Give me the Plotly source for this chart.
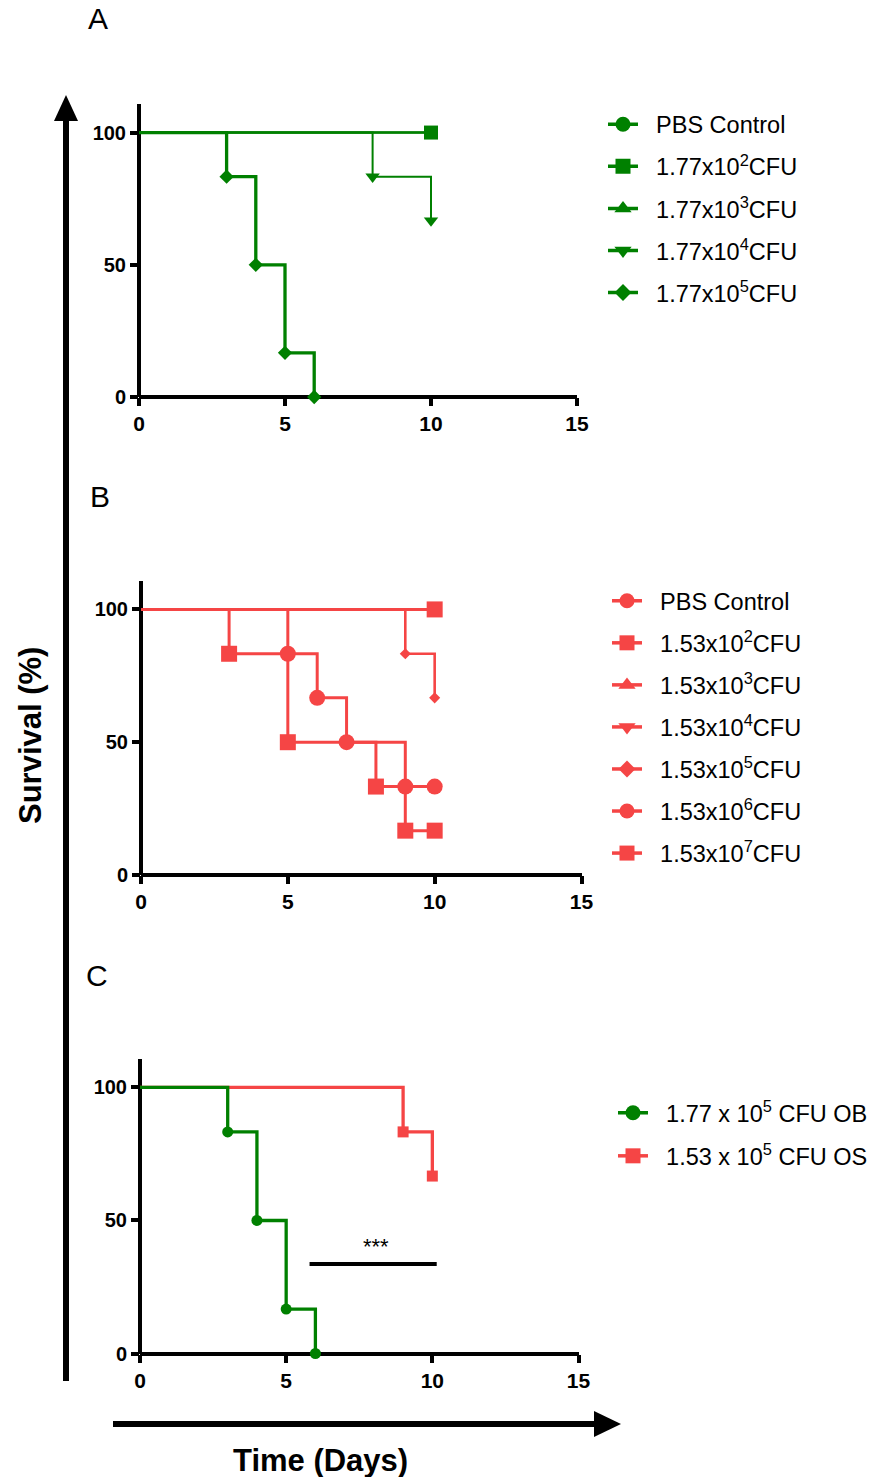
import plotly.graph_objects as go

W, H = 876, 1477
FONT = "Liberation Sans, Arial, sans-serif"
GREEN = "#008000"
RED = "#F54545"
PAD = "\u00a0\u00a0"

# ---------------- data ----------------
# Panel A (green, 1.77 x 10^n CFU)
a_names = ["PBS Control", "1.77x10<sup>2</sup>CFU", "1.77x10<sup>3</sup>CFU",
           "1.77x10<sup>4</sup>CFU", "1.77x10<sup>5</sup>CFU"]
a_days = [[0, 10], [0, 10], [0, 10], [0, 8, 10], [0, 3, 4, 5, 6]]
a_surv = [[100, 100], [100, 100], [100, 100], [100, 83.3, 66.7],
          [100, 83.3, 50, 16.7, 0]]

# Panel B (red, 1.53 x 10^n CFU)
b_names = ["PBS Control", "1.53x10<sup>2</sup>CFU", "1.53x10<sup>3</sup>CFU",
           "1.53x10<sup>4</sup>CFU", "1.53x10<sup>5</sup>CFU",
           "1.53x10<sup>6</sup>CFU", "1.53x10<sup>7</sup>CFU"]
b_days = [[0, 10], [0, 10], [0, 10], [0, 10], [0, 9, 10],
          [0, 5, 6, 7, 9, 10], [0, 3, 5, 8, 9, 10]]
b_surv = [[100, 100], [100, 100], [100, 100], [100, 100], [100, 83.3, 66.7],
          [100, 83.3, 66.7, 50, 33.3, 33.3], [100, 83.3, 50, 33.3, 16.7, 16.7]]

# Panel C (comparison)
c_names = ["1.77 x 10<sup>5</sup> CFU OB", "1.53 x 10<sup>5</sup> CFU OS"]
c_days = [[0, 3, 4, 5, 6], [0, 9, 10]]
c_surv = [[100, 83.3, 50, 16.7, 0], [100, 83.3, 66.7]]
sig_days = [5.8, 10.15]
sig_level = 33.6
sig_label = "***"

x_ticks = [0, 5, 10, 15]
y_ticks = [0, 50, 100]

# ---------------- styles ----------------
a_style = dict(
    symbols=["circle", "square", "triangle-up", "triangle-down", "diamond"],
    sizes=[12, 14, 12, 12.5, 11], widths=[2, 2, 2, 2, 3.3],
    draw_order=[0, 2, 1, 3, 4])
b_style = dict(
    symbols=["circle", "square", "triangle-up", "triangle-down", "diamond", "circle", "square"],
    sizes=[14, 16, 12, 12, 8.5, 16, 16], widths=[3, 3, 3, 3, 2.6, 3, 3],
    draw_order=[0, 2, 3, 1, 4, 6, 5])
c_style = dict(symbols=["circle", "square"], sizes=[11, 11], widths=[3.3, 3.3],
               draw_order=[1, 0], colors=[GREEN, RED])
legend_marker = {"circle": 15, "square": 15, "triangle-up": 15, "triangle-down": 15, "diamond": 13}

# pixel geometry of the three panels: (x0, x1, ytop, ybottom, yrange_top)
panels = [(139, 577, 104, 397, 110.8), (141, 581.5, 581, 875, 110.7),
          (140, 578.5, 1059, 1353.5, 110.7)]


def px(x):
    return x / W


def py(y):
    return 1 - y / H


fig = go.Figure()


def add_panel(idx, names, days, surv, symbols, sizes, widths, order, colors, legend_name):
    xa = "x" if idx == 1 else f"x{idx}"
    ya = "y" if idx == 1 else f"y{idx}"
    for i in order:
        n = len(days[i])
        fig.add_trace(go.Scatter(
            x=days[i], y=surv[i], mode="lines+markers", xaxis=xa, yaxis=ya,
            line=dict(color=colors[i], width=widths[i], shape="hv"),
            marker=dict(symbol=symbols[i], size=[0] + [sizes[i]] * (n - 1), color=colors[i],
                        opacity=1, line=dict(width=0)),
            cliponaxis=False, showlegend=False, hoverinfo="skip"))
    for i, nm in enumerate(names):
        fig.add_trace(go.Scatter(
            x=[None], y=[None], mode="lines+markers", xaxis=xa, yaxis=ya, name=PAD + nm,
            legend=legend_name, legendgroup=f"{legend_name}_{i}",
            line=dict(color=colors[i], width=3.5),
            marker=dict(symbol=symbols[i], size=legend_marker[symbols[i]],
                        color=colors[i], opacity=1, line=dict(width=0)),
            showlegend=True))


add_panel(1, a_names, a_days, a_surv, a_style["symbols"], a_style["sizes"], a_style["widths"],
          a_style["draw_order"], [GREEN] * 5, "legend")
add_panel(2, b_names, b_days, b_surv, b_style["symbols"], b_style["sizes"], b_style["widths"],
          b_style["draw_order"], [RED] * 7, "legend2")
add_panel(3, c_names, c_days, c_surv, c_style["symbols"], c_style["sizes"], c_style["widths"],
          c_style["draw_order"], c_style["colors"], "legend3")

# significance bar in panel C
fig.add_trace(go.Scatter(x=sig_days, y=[sig_level, sig_level], mode="lines", xaxis="x3", yaxis="y3",
                         line=dict(color="black", width=4), showlegend=False, hoverinfo="skip",
                         cliponaxis=False))

xtickfont = dict(family=FONT, size=21, color="black", weight="bold")
ytickfont = dict(family=FONT, size=20, color="black", weight="bold")
layout = dict(width=W, height=H, margin=dict(l=0, r=0, t=0, b=0, autoexpand=False),
              paper_bgcolor="white", plot_bgcolor="white", showlegend=True)
for k, (x0, x1, yt, yb, ytop) in enumerate(panels, start=1):
    sfx = "" if k == 1 else str(k)
    layout[f"xaxis{sfx}"] = dict(
        domain=[px(x0), px(x1)], range=[0, 15], anchor=f"y{sfx}", automargin=False,
        showgrid=False, showline=False, zeroline=True, zerolinecolor="black", zerolinewidth=4,
        ticks="outside", ticklen=8, tickwidth=4, tickcolor="black", tickvals=x_ticks,
        tickfont=xtickfont, fixedrange=True)
    layout[f"yaxis{sfx}"] = dict(
        domain=[py(yb), py(yt)], range=[0, ytop], anchor=f"x{sfx}", automargin=False,
        showgrid=False, showline=False, zeroline=True, zerolinecolor="black", zerolinewidth=4,
        ticks="outside", ticklen=8, tickwidth=4, tickcolor="black", tickvals=y_ticks,
        tickfont=ytickfont, fixedrange=True)

leg_common = dict(xanchor="left", yanchor="top", font=dict(family=FONT, size=23.5, color="black"),
                  tracegroupgap=8.5, itemsizing="trace", traceorder="grouped",
                  bgcolor="rgba(0,0,0,0)", borderwidth=0, itemclick=False, itemdoubleclick=False)
layout["legend"] = dict(x=px(603), y=py(102.5), **leg_common)
layout["legend2"] = dict(x=px(607), y=py(579), **leg_common)
layout["legend3"] = dict(x=px(613), y=py(1091), **{**leg_common, "tracegroupgap": 9.5})

fig.update_layout(**layout)

# panel letters and axis titles
ann = [
    dict(text="A", x=px(98), y=py(19), font=dict(family=FONT, size=30, color="black")),
    dict(text="B", x=px(100), y=py(496), font=dict(family=FONT, size=30, color="black")),
    dict(text="C", x=px(97), y=py(975), font=dict(family=FONT, size=30, color="black")),
    dict(text="Survival (%)", x=px(31), y=py(736), textangle=-90,
         font=dict(family=FONT, size=31, color="black", weight="bold")),
    dict(text="Time (Days)", x=px(320), y=py(1460),
         font=dict(family=FONT, size=31, color="black", weight="bold")),
]
for a in ann:
    fig.add_annotation(xref="paper", yref="paper", xanchor="center", yanchor="middle",
                       showarrow=False, **a)
fig.add_annotation(xref="x3", yref="y3", x=sum(sig_days) / 2 + 0.1, y=sig_level + 1.2,
                   text=sig_label, showarrow=False, xanchor="center", yanchor="bottom",
                   font=dict(family=FONT, size=22, color="black"))

# big axis arrows (decorations)
fig.add_shape(type="line", xref="paper", yref="paper", x0=px(66), x1=px(66), y0=py(1381), y1=py(118),
              line=dict(color="black", width=6))
fig.add_shape(type="path", xref="paper", yref="paper",
              path=f"M {px(54)} {py(121)} L {px(78)} {py(121)} L {px(66)} {py(95)} Z",
              fillcolor="black", line=dict(width=0))
fig.add_shape(type="line", xref="paper", yref="paper", x0=px(113), x1=px(597), y0=py(1424), y1=py(1424),
              line=dict(color="black", width=6))
fig.add_shape(type="path", xref="paper", yref="paper",
              path=f"M {px(594)} {py(1411)} L {px(594)} {py(1437)} L {px(621)} {py(1424)} Z",
              fillcolor="black", line=dict(width=0))

fig.write_html("out.html", config={"displayModeBar": False},
               post_script="document.body.style.margin='0px';document.body.style.padding='0px';")
